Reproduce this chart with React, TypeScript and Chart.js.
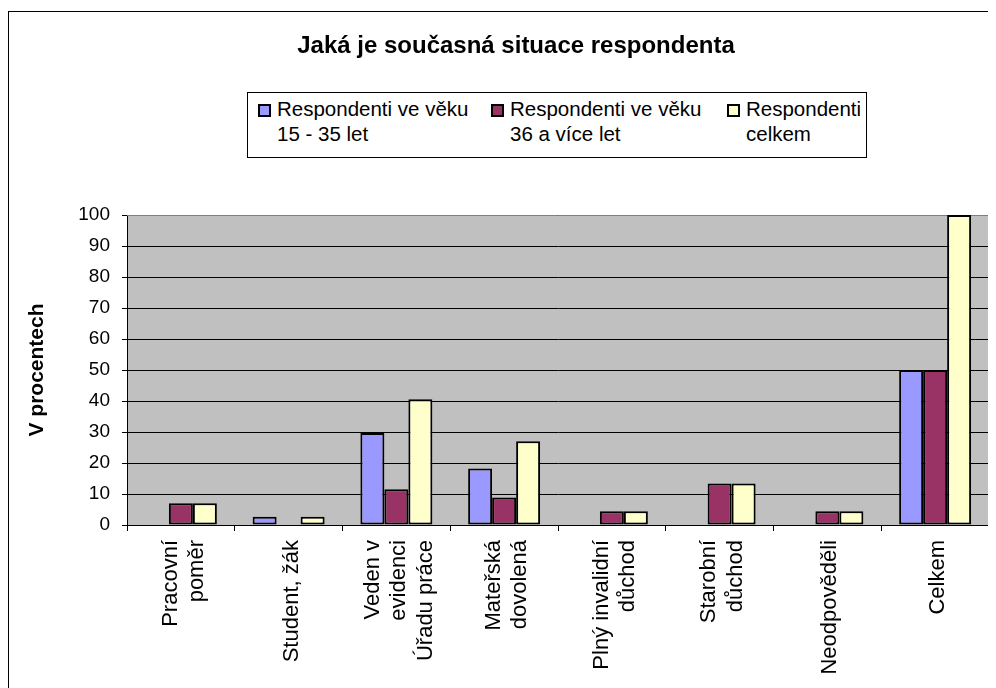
import React, { useEffect, useRef } from "react";
import { Chart, registerables } from "chart.js";

Chart.register(...registerables);

const TITLE = "Jaká je současná situace respondenta";
const Y_TITLE = "V procentech";
const CATEGORIES: (string | string[])[] = [
  ["Pracovní", "poměr"],
  "Student, žák",
  ["Veden v", "evidenci", "Úřadu práce"],
  ["Mateřská", "dovolená"],
  ["Plný invalidní", "důchod"],
  ["Starobní", "důchod"],
  "Neodpověděli",
  "Celkem",
];
const SERIES_NAMES = [
  ["Respondenti ve věku", "15 - 35 let"],
  ["Respondenti ve věku", "36 a více let"],
  ["Respondenti", "celkem"],
];
const YOUNG = [0, 2.7, 29.7, 18.2, 0, 0, 0, 50];
const OLDER = [7.0, 0, 11.5, 8.9, 4.4, 13.4, 4.4, 50];
const TOTAL = [7.0, 2.7, 40.6, 27.0, 4.4, 13.4, 4.4, 100];
const COLORS = ["#9999FF", "#993366", "#FFFFCC"];

const FONT = "'Liberation Sans', Arial, sans-serif";
const X_FONT_SIZE = 22;
const LEFT_PAD = 34;

const plotBg = {
  id: "plotBg",
  beforeDraw(chart: any) {
    const { ctx, chartArea: a } = chart;
    ctx.save();
    ctx.fillStyle = "#C0C0C0";
    ctx.fillRect(a.left, a.top, a.right - a.left, a.bottom - a.top);
    ctx.restore();
    // center multi-line rotated category labels on their tick
    const s = chart.scales.x;
    const items = s.getLabelItems();
    items.forEach((it: any) => {
      if (!it._centered) {
        const lh = it.font.lineHeight;
        const n = Array.isArray(it.label) ? it.label.length : 1;
        it.textOffset += 3 - ((n - 1) * lh) / 2;
        it._centered = true;
      }
    });
  },
  beforeDatasetsDraw(chart: any) {
    const { ctx, chartArea: a } = chart;
    ctx.save();
    ctx.strokeStyle = "#808080";
    ctx.lineWidth = 1;
    ctx.beginPath();
    ctx.moveTo(a.left, Math.round(a.top) + 0.5);
    ctx.lineTo(Math.round(a.right) - 0.5, Math.round(a.top) + 0.5);
    ctx.lineTo(Math.round(a.right) - 0.5, a.bottom);
    ctx.stroke();
    ctx.restore();
  },
};

export default function App() {
  const ref = useRef<HTMLCanvasElement>(null);
  useEffect(() => {
    document.body.style.overflow = "hidden";
    document.documentElement.style.overflow = "hidden";
    const chart = new Chart(ref.current!, {
      type: "bar",
      data: {
        labels: CATEGORIES,
        datasets: [YOUNG, OLDER, TOTAL].map((d, i) => ({
          label: SERIES_NAMES[i].join(" "),
          data: d,
          backgroundColor: COLORS[i],
          borderColor: "#000",
          borderWidth: 2,
          borderSkipped: false,
          categoryPercentage: 0.668,
          barPercentage: 1,
        })),
      },
      plugins: [plotBg],
      options: {
        animation: false,
        responsive: false,
        devicePixelRatio: 1,
        layout: { padding: { left: LEFT_PAD, right: 10, top: 0, bottom: 0 } },
        plugins: {
          legend: { display: false },
          tooltip: { enabled: false },
          title: {
            display: true,
            text: TITLE,
            color: "#000",
            font: { family: FONT, size: 24, weight: "bold" },
            padding: { top: 19.6, bottom: 154.6 },
          },
        },
        scales: {
          x: {
            afterFit(s: any) {
              s.height = 163;
            },
            grid: {
              offset: true,
              drawOnChartArea: false,
              drawTicks: true,
              tickLength: 6,
              color: "#000",
            },
            border: { display: true, color: "#000", width: 1 },
            ticks: {
              color: "#000",
              font: { family: FONT, size: X_FONT_SIZE },
              minRotation: 90,
              maxRotation: 90,
              autoSkip: false,
              padding: 9,
            },
          },
          y: {
            min: 0,
            max: 100,
            afterFit(s: any) {
              s.width = 118 - LEFT_PAD;
            },
            grid: { color: "#000", lineWidth: 1, drawTicks: true, tickLength: 5 },
            border: { display: true, color: "#000", width: 1 },
            ticks: {
              stepSize: 10,
              color: "#000",
              font: { family: FONT, size: 19 },
              padding: 12,
            },
            title: {
              display: true,
              text: Y_TITLE,
              color: "#000",
              font: { family: FONT, size: 21, weight: "bold" },
              padding: { top: 15.4 - LEFT_PAD, bottom: 0 },
            },
          },
        },
      },
    });
    return () => chart.destroy();
  }, []);

  const itemX = [0, 233, 469];
  return (
    <div
      style={{
        position: "relative",
        top: 3,
        width: 1000,
        height: 690,
        borderTop: "1px solid #000",
        borderLeft: "1px solid #000",
        background: "#fff",
      }}
    >
      <canvas ref={ref} width={990} height={676} style={{ display: "block" }} />
      <div
        style={{
          position: "absolute",
          left: 238,
          top: 80,
          width: 618,
          height: 64,
          border: "1px solid #000",
          background: "#fff",
          fontFamily: FONT,
          fontSize: 20.5,
          color: "#000",
        }}
      >
        {SERIES_NAMES.map((lines, i) => (
          <div key={i} style={{ position: "absolute", left: 10 + itemX[i], top: 0 }}>
            <div
              style={{
                position: "absolute",
                left: 0,
                top: 11,
                width: 9,
                height: 9,
                border: "2px solid #000",
                background: COLORS[i],
              }}
            />
            <div style={{ position: "absolute", left: 19, top: 3, lineHeight: "25px", whiteSpace: "nowrap" }}>
              {lines.map((l, j) => (
                <div key={j}>{l}</div>
              ))}
            </div>
          </div>
        ))}
      </div>
    </div>
  );
}
